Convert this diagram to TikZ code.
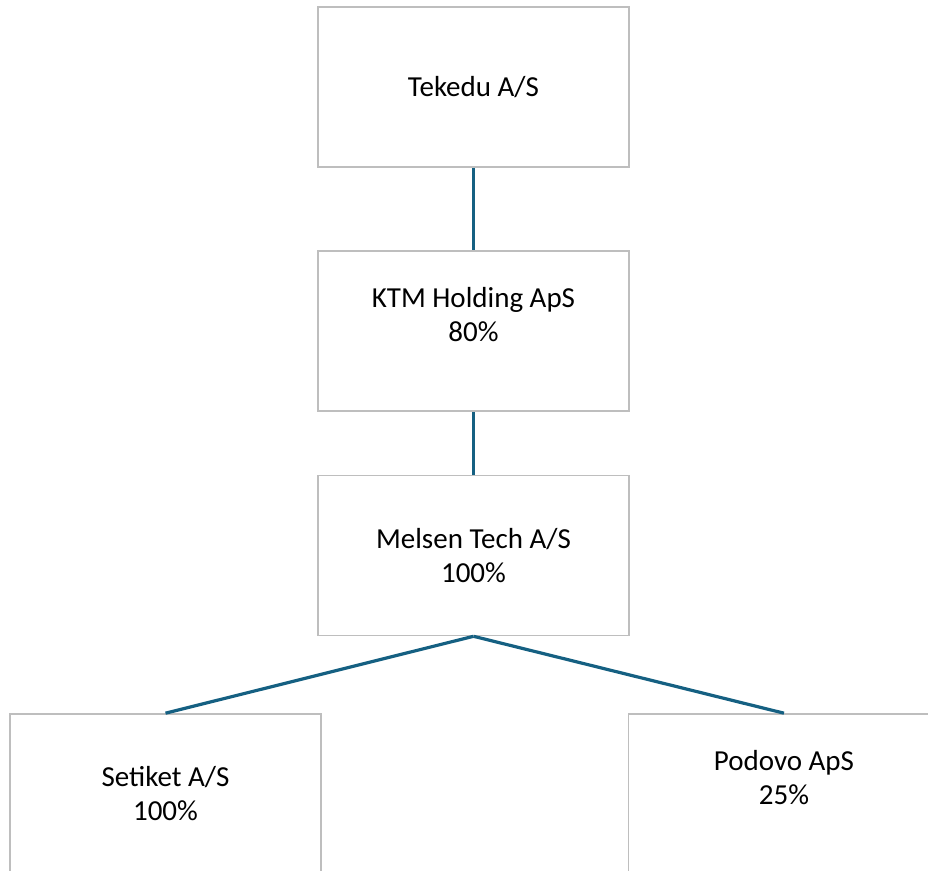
\documentclass[tikz,border=0pt]{standalone}
\usepackage{fontspec}
\setmainfont{Carlito}
\definecolor{linkblue}{RGB}{21,96,130}
\definecolor{boxgray}{RGB}{190,190,190}

\begin{document}
\begin{tikzpicture}[node distance=122pt]
    \tikzstyle{company} = [rectangle, draw=boxgray, line width=0.8pt, minimum width=155.5pt, minimum height=80pt, align=center, font=\fontsize{14.5}{17}\selectfont]
    \tikzstyle{link} = [linkblue, line width=1.6pt]

    \clip (-236.75pt,43.5pt) rectangle (227.25pt,-392pt);

    \node[company] (tekedu) {Tekedu A/S};
    \node[company, below of=tekedu] (ktm) {KTM Holding ApS\\80\%\\ };
    \node[company, below of=ktm, yshift=9.75pt] (melsen) {Melsen Tech A/S\\100\%};
    \node[company, below of=melsen, xshift=-154pt, yshift=2.75pt] (setiket) {Setiket A/S\\100\%};
    \node[company, below of=melsen, xshift=155.25pt, yshift=2.75pt] (podovo) {Podovo ApS\\25\%\\ };

    \draw[link] (tekedu.south) -- (ktm.north);
    \draw[link] (ktm.south) -- (melsen.north);
    \draw[link] (melsen.south) -- (setiket.north);
    \draw[link] (melsen.south) -- (podovo.north);
\end{tikzpicture}
\end{document}
